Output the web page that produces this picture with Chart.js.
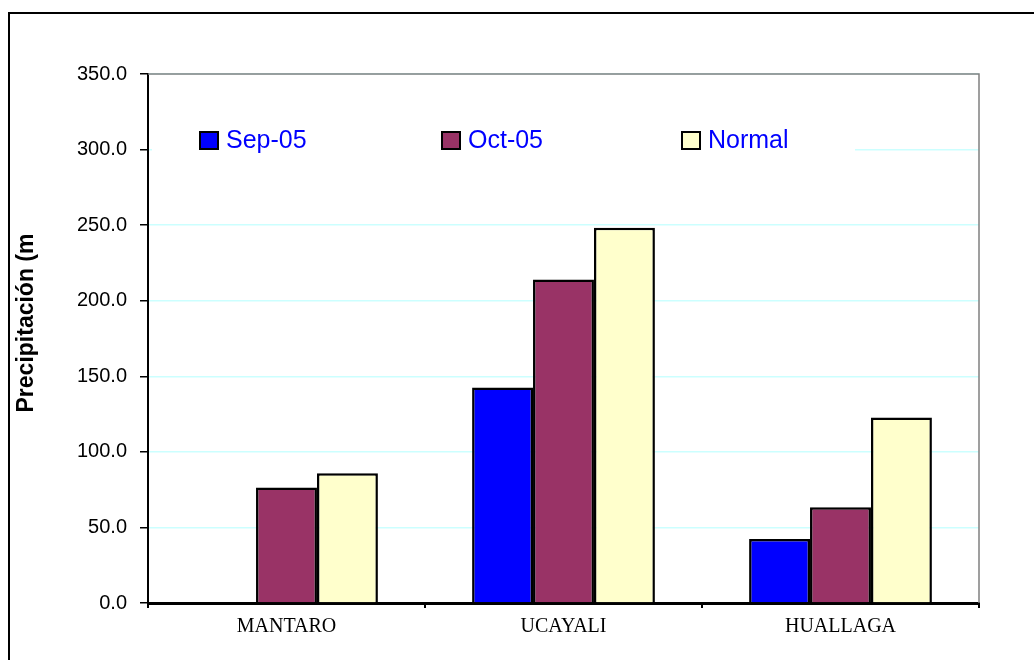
<!DOCTYPE html>
<html>
<head>
<meta charset="utf-8">
<script src="https://cdn.jsdelivr.net/npm/chart.js@4.4.1/dist/chart.umd.min.js"></script>
<style>
  html, body { margin: 0; padding: 0; background: #fff; }
  #wrap { position: relative; width: 1034px; height: 660px; }
</style>
</head>
<body>
<div id="wrap"><canvas id="myPlot" width="1034" height="660"></canvas></div>
<script>
const xValues = ["MANTARO", "UCAYALI", "HUALLAGA"];
const sep05 = [0, 142.5, 42.3];
const oct05 = [76.5, 214.0, 63.3];
const normal = [85.8, 248.3, 122.7];
const seriesNames = ["Sep-05", "Oct-05", "Normal"];
const barColors = ["#0000ff", "#993366", "#ffffcc"];

// legend + frame drawn by hand, like the spreadsheet original
const framePlugin = {
  id: "frame",
  beforeDraw(chart) {
    const ctx = chart.ctx;
    ctx.save();
    ctx.fillStyle = "#fff";
    ctx.fillRect(0, 0, chart.width, chart.height);
    ctx.restore();
  },
  afterDatasetsDraw(chart) {
    const ctx = chart.ctx;
    const a = chart.chartArea;
    ctx.save();
    // white legend box hiding the grid behind it
    ctx.fillStyle = "#fff";
    ctx.fillRect(152, 122, 703, 33);
    const boxX = [200, 442, 682];
    for (let i = 0; i < seriesNames.length; i++) {
      ctx.fillStyle = barColors[i];
      ctx.fillRect(boxX[i], 132, 18, 17);
      ctx.strokeStyle = "#000";
      ctx.lineWidth = 2;
      ctx.strokeRect(boxX[i], 132, 18, 17);
      ctx.fillStyle = "#0000ff";
      ctx.font = "25px 'Liberation Sans', Arial, sans-serif";
      ctx.textBaseline = "alphabetic";
      ctx.fillText(seriesNames[i], boxX[i] + 26, 148);
    }
    // gray top and right edges of plot area
    ctx.strokeStyle = "#808080";
    ctx.lineWidth = 1.5;
    ctx.beginPath();
    ctx.moveTo(a.left, a.top);
    ctx.lineTo(a.right, a.top);
    ctx.lineTo(a.right, a.bottom);
    ctx.stroke();
    // outer chart border
    ctx.strokeStyle = "#000";
    ctx.lineWidth = 2;
    ctx.beginPath();
    ctx.moveTo(9, 700);
    ctx.lineTo(9, 13);
    ctx.lineTo(1100, 13);
    ctx.stroke();
    // y title
    ctx.translate(27, 323);
    ctx.rotate(-Math.PI / 2);
    ctx.fillStyle = "#000";
    ctx.font = "bold 23px 'Liberation Sans', Arial, sans-serif";
    ctx.textAlign = "center";
    ctx.textBaseline = "middle";
    ctx.fillText("Precipitación (m", 0, 0);
    ctx.restore();
  }
};

new Chart("myPlot", {
  type: "bar",
  data: {
    labels: xValues,
    datasets: [
      { label: seriesNames[0], data: sep05, backgroundColor: barColors[0] },
      { label: seriesNames[1], data: oct05, backgroundColor: barColors[1] },
      { label: seriesNames[2], data: normal, backgroundColor: barColors[2] }
    ].map(d => Object.assign(d, {
      borderColor: "#000",
      borderWidth: 2.5,
      borderSkipped: "bottom",
      categoryPercentage: 0.66,
      barPercentage: 1
    }))
  },
  options: {
    responsive: false,
    animation: false,
    layout: { padding: { left: 0, right: 55, top: 74, bottom: 0 } },
    plugins: {
      legend: { display: false },
      tooltip: { enabled: false },
      title: { display: false }
    },
    scales: {
      x: {
        offset: true,
        grid: {
          offset: true,
          drawOnChartArea: false,
          color: "#000",
          tickLength: 5,
          lineWidth: 2
        },
        border: { color: "#000", width: 3 },
        ticks: {
          color: "#000",
          padding: 7,
          font: { family: "'Liberation Serif', 'Times New Roman', serif", size: 20 }
        },
        afterFit(scale) { scale.height = 57; }
      },
      y: {
        min: 0,
        max: 350,
        grid: {
          color: "#ccffff",
          lineWidth: 1.5,
          tickColor: "#000",
          tickLength: 8
        },
        border: { color: "#000", width: 2 },
        ticks: {
          stepSize: 50,
          color: "#000",
          padding: 13,
          font: { family: "'Liberation Sans', Arial, sans-serif", size: 20 },
          callback: v => v.toFixed(1)
        },
        afterFit(scale) { scale.width = 148; }
      }
    }
  },
  plugins: [framePlugin]
});
</script>
</body>
</html>
